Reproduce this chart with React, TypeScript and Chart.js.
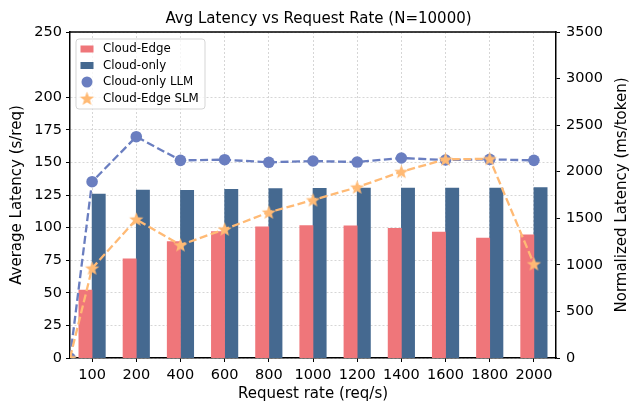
import React, { useEffect, useRef } from "react";
import { Chart, registerables } from "chart.js";

Chart.register(...registerables);

const FONT = "'DejaVu Sans', sans-serif";

const TITLE = "Avg Latency vs Request Rate (N=10000)";
const X_TITLE = "Request rate (req/s)";
const Y_TITLE = "Average Latency (s/req)";
const Y2_TITLE = "Normalized Latency (ms/token)";

const CATEGORIES = ["100", "200", "400", "600", "800", "1000", "1200", "1400", "1600", "1800", "2000"];
const CLOUD_EDGE = [52, 76, 89.2, 97, 100.5, 101.5, 101.3, 99.5, 96.5, 92, 94.5];
const CLOUD_ONLY = [125.8, 128.8, 128.6, 129.4, 129.9, 130.1, 130.4, 130.4, 130.4, 130.4, 130.6];
const CLOUD_ONLY_LLM = [1893, 2376, 2122, 2129, 2101, 2115, 2104, 2147, 2126, 2133, 2122];
const CLOUD_EDGE_SLM = [963, 1489, 1213, 1382, 1564, 1696, 1833, 2000, 2133, 2138, 1009];
// lines start from a zero point at the left edge of the plot
const LEAD_IN_POSITION = -0.5;
const LEAD_IN_VALUE = 0;

const LEFT_TICKS = [0, 25, 50, 75, 100, 125, 150, 175, 200, 250];
const RIGHT_TICKS = [0, 500, 1000, 1500, 2000, 2500, 3000, 3500];

const RED = "#EF767A";
const BLUE = "#456990";
const LLM = "#6A7EC0";
const ORANGE = "#FFBA75";
const GRID = "#cccccc";

// layout / style constants
const BAR_SHIFT = 0.15; // half of one bar's width in category units
const X_MIN = -0.5;

function makeStar(color: string, outerR: number): HTMLCanvasElement {
  const size = Math.ceil(outerR * 2 + 2);
  const c = document.createElement("canvas");
  c.width = size;
  c.height = size;
  const ctx = c.getContext("2d")!;
  const cx = size / 2;
  const cy = size / 2 + 0.5;
  const innerR = outerR * 0.42;
  ctx.beginPath();
  for (let i = 0; i < 10; i++) {
    const r = i % 2 === 0 ? outerR : innerR;
    const a = -Math.PI / 2 + (i * Math.PI) / 5;
    const x = cx + r * Math.cos(a);
    const y = cy + r * Math.sin(a);
    if (i === 0) ctx.moveTo(x, y);
    else ctx.lineTo(x, y);
  }
  ctx.closePath();
  ctx.fillStyle = color;
  ctx.fill();
  return c;
}

function lineData(values: number[]) {
  return [
    { x: LEAD_IN_POSITION, y: LEAD_IN_VALUE },
    ...values.map((v, i) => ({ x: i, y: v })),
  ];
}

function barData(values: number[], shift: number) {
  return values.map((v, i) => ({ x: i + shift, y: v }));
}

export default function App() {
  const ref = useRef<HTMLCanvasElement | null>(null);

  useEffect(() => {
    document.body.style.margin = "0";
    const canvas = ref.current;
    if (!canvas) return;
    const star = makeStar(ORANGE, 7.5);

    const extras = {
      id: "extras",
      afterDraw(chart: any) {
        const { ctx, chartArea } = chart;
        const { left, right, top, bottom } = chartArea;
        ctx.save();
        ctx.strokeStyle = "#000";
        ctx.lineWidth = 1.5;
        ctx.beginPath();
        ctx.moveTo(left - 0.75, top);
        ctx.lineTo(right + 0.75, top);
        ctx.stroke();
        ctx.fillStyle = "#000";
        ctx.font = `15px ${FONT}`;
        ctx.textAlign = "center";
        ctx.textBaseline = "middle";
        ctx.translate(622, (top + bottom) / 2);
        ctx.rotate(-Math.PI / 2);
        ctx.fillText(Y2_TITLE, 0, 0);
        ctx.restore();

        // legend
        ctx.save();
        const lx = left + 6;
        const ly = top + 7;
        const lw = 129;
        const lh = 70;
        const r = 3;
        ctx.beginPath();
        ctx.moveTo(lx + r, ly);
        ctx.lineTo(lx + lw - r, ly);
        ctx.arcTo(lx + lw, ly, lx + lw, ly + r, r);
        ctx.lineTo(lx + lw, ly + lh - r);
        ctx.arcTo(lx + lw, ly + lh, lx + lw - r, ly + lh, r);
        ctx.lineTo(lx + r, ly + lh);
        ctx.arcTo(lx, ly + lh, lx, ly + lh - r, r);
        ctx.lineTo(lx, ly + r);
        ctx.arcTo(lx, ly, lx + r, ly, r);
        ctx.closePath();
        ctx.fillStyle = "rgba(255,255,255,0.8)";
        ctx.fill();
        ctx.strokeStyle = "#d5d5d5";
        ctx.lineWidth = 1;
        ctx.stroke();

        const ds = chart.data.datasets;
        ctx.font = `11.8px ${FONT}`;
        ctx.textAlign = "left";
        ctx.textBaseline = "middle";
        for (let i = 0; i < ds.length; i++) {
          const cy = ly + 10 + i * 16.5;
          const mx = lx + 11;
          if (i < 2) {
            ctx.fillStyle = ds[i].backgroundColor;
            ctx.fillRect(mx - 6.5, cy - 3.5, 13, 7);
          } else if (i === 2) {
            ctx.fillStyle = LLM;
            ctx.beginPath();
            ctx.arc(mx, cy, 5.5, 0, Math.PI * 2);
            ctx.fill();
          } else {
            ctx.drawImage(star, mx - star.width / 2, cy - star.height / 2);
          }
          ctx.fillStyle = "#000";
          ctx.fillText(ds[i].label, lx + 27, cy);
        }
        ctx.restore();
      },
    };

    const tickFont = { family: FONT, size: 14.5 };

    const chart = new Chart(canvas, {
      type: "bar",
      data: {
        datasets: [
          {
            label: "Cloud-Edge",
            data: barData(CLOUD_EDGE, -BAR_SHIFT),
            backgroundColor: RED,
            borderWidth: 0,
            grouped: false,
            barPercentage: 1.0,
            categoryPercentage: 1.0,
            yAxisID: "y",
            order: 2,
          },
          {
            label: "Cloud-only",
            data: barData(CLOUD_ONLY, BAR_SHIFT),
            backgroundColor: BLUE,
            borderWidth: 0,
            grouped: false,
            barPercentage: 1.0,
            categoryPercentage: 1.0,
            yAxisID: "y",
            order: 2,
          },
          {
            type: "line",
            label: "Cloud-only LLM",
            data: lineData(CLOUD_ONLY_LLM),
            borderColor: LLM,
            backgroundColor: LLM,
            borderWidth: 2.3,
            borderDash: [8, 3.5],
            pointStyle: "circle",
            pointRadius: 5.8,
            pointBackgroundColor: LLM,
            pointBorderColor: LLM,
            pointBorderWidth: 0,
            tension: 0,
            yAxisID: "y2",
            clip: 0,
            order: 1,
          } as any,
          {
            type: "line",
            label: "Cloud-Edge SLM",
            data: lineData(CLOUD_EDGE_SLM),
            borderColor: ORANGE,
            backgroundColor: ORANGE,
            borderWidth: 2.3,
            borderDash: [8, 3.5],
            pointStyle: star,
            pointRadius: 7,
            tension: 0,
            yAxisID: "y2",
            clip: 0,
            order: 0,
          } as any,
        ],
      },
      options: {
        animation: false,
        responsive: false,
        events: [],
        layout: { padding: 0 },
        plugins: {
          legend: { display: false },
          tooltip: { enabled: false },
          title: {
            display: true,
            text: TITLE,
            color: "#000",
            font: { family: FONT, size: 15, weight: "normal" },
            padding: { top: 10, bottom: 4 },
          },
        },
        scales: {
          x: {
            type: "linear",
            offset: false,
            min: X_MIN,
            max: CATEGORIES.length + X_MIN,
            afterBuildTicks(s: any) {
              s.ticks = CATEGORIES.map((_, i) => ({ value: i }));
            },
            grid: {
              offset: false,
              color: GRID,
              lineWidth: 0.8,
              tickColor: "#000",
              tickLength: 4,
              tickWidth: 1,
            },
            border: { color: "#000", width: 1.5, dash: [2, 2] },
            ticks: {
              color: "#000",
              font: tickFont,
              padding: 5,
              maxRotation: 0,
              autoSkip: false,
              callback: (v: any) => CATEGORIES[Math.round(Number(v))] ?? "",
            },
            title: {
              display: true,
              text: X_TITLE,
              color: "#000",
              font: { family: FONT, size: 15 },
              padding: { top: 0, bottom: 12 },
            },
            afterFit(s: any) {
              s.height = 57;
            },
          },
          y: {
            position: "left",
            min: 0,
            max: 250,
            afterBuildTicks(s: any) {
              s.ticks = LEFT_TICKS.map((v) => ({ value: v }));
            },
            grid: {
              color: GRID,
              lineWidth: 0.8,
              tickColor: "#000",
              tickLength: 4,
              tickWidth: 1,
            },
            border: { color: "#000", width: 1.5, dash: [2, 2] },
            ticks: { color: "#000", font: tickFont, padding: 4, callback: (v: any) => String(v) },
            title: {
              display: true,
              text: Y_TITLE,
              color: "#000",
              font: { family: FONT, size: 15 },
              padding: { top: 8, bottom: 0 },
            },
            afterFit(s: any) {
              s.width = 70;
            },
          },
          y2: {
            position: "right",
            min: 0,
            max: 3500,
            afterBuildTicks(s: any) {
              s.ticks = RIGHT_TICKS.map((v) => ({ value: v }));
            },
            grid: {
              drawOnChartArea: false,
              tickColor: "#000",
              tickLength: 4,
              tickWidth: 1,
            },
            border: { color: "#000", width: 1.5 },
            ticks: { color: "#000", font: tickFont, padding: 6, callback: (v: any) => String(v) },
            title: { display: false },
            afterFit(s: any) {
              s.width = 81;
            },
          },
        },
      } as any,
      plugins: [extras],
    });

    return () => {
      chart.destroy();
    };
  }, []);

  return (
    <div style={{ width: 637, height: 415 }}>
      <canvas ref={ref} width={637} height={415} style={{ width: 637, height: 415, display: "block" }} />
    </div>
  );
}
